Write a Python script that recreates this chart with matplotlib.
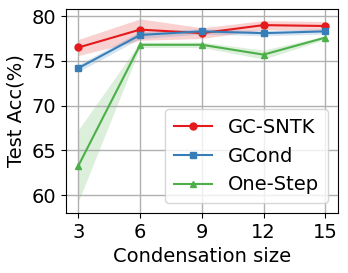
import numpy as np
import matplotlib.pyplot as plt

sizes = [3, 6, 9, 12, 15]

sntk = [76.5, 78.5, 78.1, 79.0, 78.9]
sntk_std = [0.9, 1.2, 0.6, 0.5, 0.5]

gcond = [74.2, 77.9, 78.3, 78.1, 78.3]
gcond_std = [0.4, 0.4, 0.3, 0.3, 0.3]

onestep = [63.3, 76.8, 76.8, 75.7, 77.6]
onestep_std = [4.0, 0.3, 0.3, 0.5, 0.2]

plt.rcParams['font.size'] = 14
fig, ax = plt.subplots(figsize=(3.48, 2.73), dpi=100)

series = [
    ('GC-SNTK', sntk, sntk_std, '#e41a1c', 'o'),
    ('GCond', gcond, gcond_std, '#377eb8', 's'),
    ('One-Step', onestep, onestep_std, '#4daf4a', '^'),
]
for name, mean, std, color, marker in series:
    mean = np.array(mean)
    std = np.array(std)
    ax.plot(sizes, mean, color=color, marker=marker, markersize=5, linewidth=1.5, label=name)
    ax.fill_between(sizes, mean - std, mean + std, color=color, alpha=0.2, linewidth=0)

ax.set_xticks(sizes)
ax.set_yticks([60, 65, 70, 75, 80])
ax.set_xlim(2.4, 15.6)
ax.set_ylim(58, 80.8)
ax.grid(True, color='#b0b0b0', linewidth=1)
ax.set_xlabel('Condensation size')
ax.set_ylabel('Test Acc(%)')
ax.legend(loc='lower right', fontsize=14, handlelength=2, borderpad=0.45, labelspacing=0.5)
plt.subplots_adjust(left=0.19, right=0.97, bottom=0.22, top=0.967)
plt.savefig('out.png')
